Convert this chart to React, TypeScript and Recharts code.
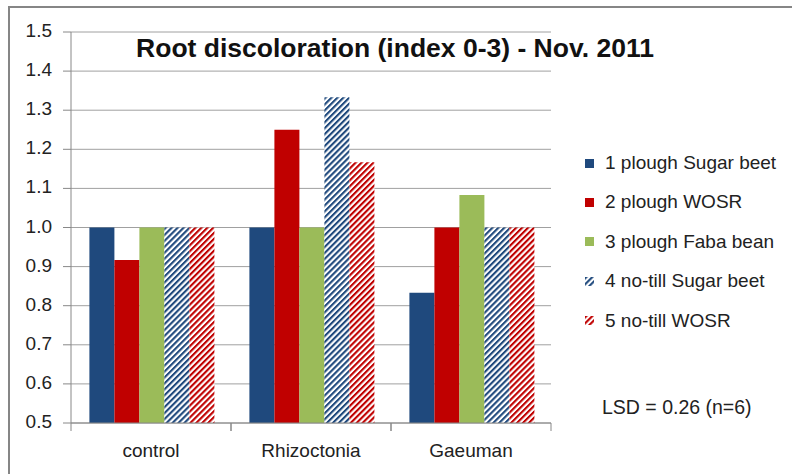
import React from "react";
import { BarChart, Bar, XAxis, YAxis, CartesianGrid } from "recharts";

const categories = ["control", "Rhizoctonia", "Gaeuman"];
const ploughSugarBeet = [1.0, 1.0, 0.833];
const ploughWOSR = [0.917, 1.25, 1.0];
const ploughFabaBean = [1.0, 1.0, 1.083];
const noTillSugarBeet = [1.0, 1.333, 1.0];
const noTillWOSR = [1.0, 1.167, 1.0];
const yTicks = [0.5, 0.6, 0.7, 0.8, 0.9, 1.0, 1.1, 1.2, 1.3, 1.4, 1.5];
const seriesNames = [
  "1 plough Sugar beet",
  "2 plough WOSR",
  "3 plough Faba bean",
  "4 no-till Sugar beet",
  "5 no-till WOSR",
];
const titleText = "Root discoloration (index 0-3) - Nov. 2011";
const lsdText = "LSD = 0.26 (n=6)";

const BLUE = "#1F497D";
const RED = "#C00000";
const GREEN = "#9BBB59";
const FONT = "'Liberation Sans', Arial, sans-serif";
const TEXT = "#222";
const W = 792;
const H = 474;
const X_AXIS_H = 30;
const M = { top: 32, right: 241, bottom: 51 - X_AXIS_H, left: 0 };
const Y_AXIS_W = 71;
const BAND = (W - M.right - Y_AXIS_W) / categories.length;

const seriesValues = [ploughSugarBeet, ploughWOSR, ploughFabaBean, noTillSugarBeet, noTillWOSR];
const keys = ["s1", "s2", "s3", "s4", "s5"];
const data = categories.map((c, i) => {
  const row: Record<string, any> = { name: c };
  keys.forEach((k, j) => (row[k] = seriesValues[j][i]));
  return row;
});

const fills = [BLUE, RED, GREEN, "url(#hatchBlue)", "url(#hatchRed)"];
const legendFills = [BLUE, RED, GREEN, "url(#lgHatchBlue)", "url(#lgHatchRed)"];

const Hatch = ({ id, color }: { id: string; color: string }) => (
  <pattern id={id} patternUnits="userSpaceOnUse" width={4.2} height={4.2} patternTransform="rotate(45)">
    <rect x={0} y={0} width={4.2} height={4.2} fill="#fff" />
    <rect x={0} y={0} width={2.1} height={4.2} fill={color} />
  </pattern>
);

const XTick = (props: any) => {
  const { x, y, payload } = props;
  return (
    <g>
      <line x1={x - BAND / 2} y1={y - 8} x2={x - BAND / 2} y2={y} stroke="#888" strokeWidth={1} />
      <line x1={x + BAND / 2} y1={y - 8} x2={x + BAND / 2} y2={y} stroke="#888" strokeWidth={1} />
      <text x={x} y={y + 21} textAnchor="middle" dominantBaseline="middle" fontFamily={FONT} fontSize={19} fill={TEXT}>
        {payload.value}
      </text>
    </g>
  );
};

const YTick = (props: any) => {
  const { x, y, payload } = props;
  return (
    <text x={x} y={y} textAnchor="end" dominantBaseline="middle" fontFamily={FONT} fontSize={19} fill={TEXT}>
      {Number(payload.value).toFixed(1)}
    </text>
  );
};

export default function App() {
  return (
    <div style={{ position: "fixed", left: 0, top: 0, width: W, height: H, background: "#fff", overflow: "hidden" }}>
      <svg width={W} height={H} style={{ position: "absolute", left: 0, top: 0 }}>
        <defs>
          <Hatch id="lgHatchBlue" color={BLUE} />
          <Hatch id="lgHatchRed" color={RED} />
        </defs>
        <path d={`M9,${H} L9,7 L${W},7`} fill="none" stroke="#868686" strokeWidth={2} />
      </svg>
      <div style={{ position: "absolute", left: 0, top: 0 }}>
        <BarChart width={W} height={H} data={data} margin={M} barCategoryGap="11.5%" barGap={0}>
          <defs>
            <Hatch id="hatchBlue" color={BLUE} />
            <Hatch id="hatchRed" color={RED} />
          </defs>
          <CartesianGrid vertical={false} stroke="#a0a0a0" strokeWidth={1} />
          <XAxis dataKey="name" height={X_AXIS_H} stroke="#888" tickLine={false} tick={<XTick />} interval={0} />
          <YAxis
            width={Y_AXIS_W}
            domain={[0.5, 1.5]}
            ticks={yTicks}
            interval={0}
            stroke="#888"
            tickSize={8}
            tickMargin={11}
            tick={<YTick />}
            allowDataOverflow
          />
          {keys.map((k, j) => (
            <Bar key={k} dataKey={k} name={seriesNames[j]} fill={fills[j]} isAnimationActive={false} />
          ))}
        </BarChart>
      </div>
      <span
        style={{
          position: "absolute",
          left: 395,
          top: 30,
          transform: "translateX(-50%)",
          whiteSpace: "nowrap",
          fontFamily: FONT,
          fontWeight: "bold",
          fontSize: 26.5,
          color: "#111",
          lineHeight: "36px",
        }}
      >
        {titleText}
      </span>
      {seriesNames.map((n, j) => (
        <div
          key={n}
          style={{
            position: "absolute",
            left: 585,
            top: 163 + j * 39.4 - 12,
            height: 24,
            display: "flex",
            alignItems: "center",
            fontFamily: FONT,
            fontSize: 19,
            color: TEXT,
            whiteSpace: "nowrap",
          }}
        >
          <svg width={9} height={9} style={{ marginRight: 11 }}>
            <rect x={0} y={0} width={9} height={9} fill={legendFills[j]} />
          </svg>
          <span>{n}</span>
        </div>
      ))}
      <div
        style={{
          position: "absolute",
          left: 602,
          top: 407 - 12,
          height: 24,
          lineHeight: "24px",
          fontFamily: FONT,
          fontSize: 19.5,
          color: TEXT,
          whiteSpace: "nowrap",
        }}
      >
        {lsdText}
      </div>
      <div style={{ position: "absolute", left: 784, top: 8, width: 8, height: H - 8, background: "#fff" }} />
    </div>
  );
}
